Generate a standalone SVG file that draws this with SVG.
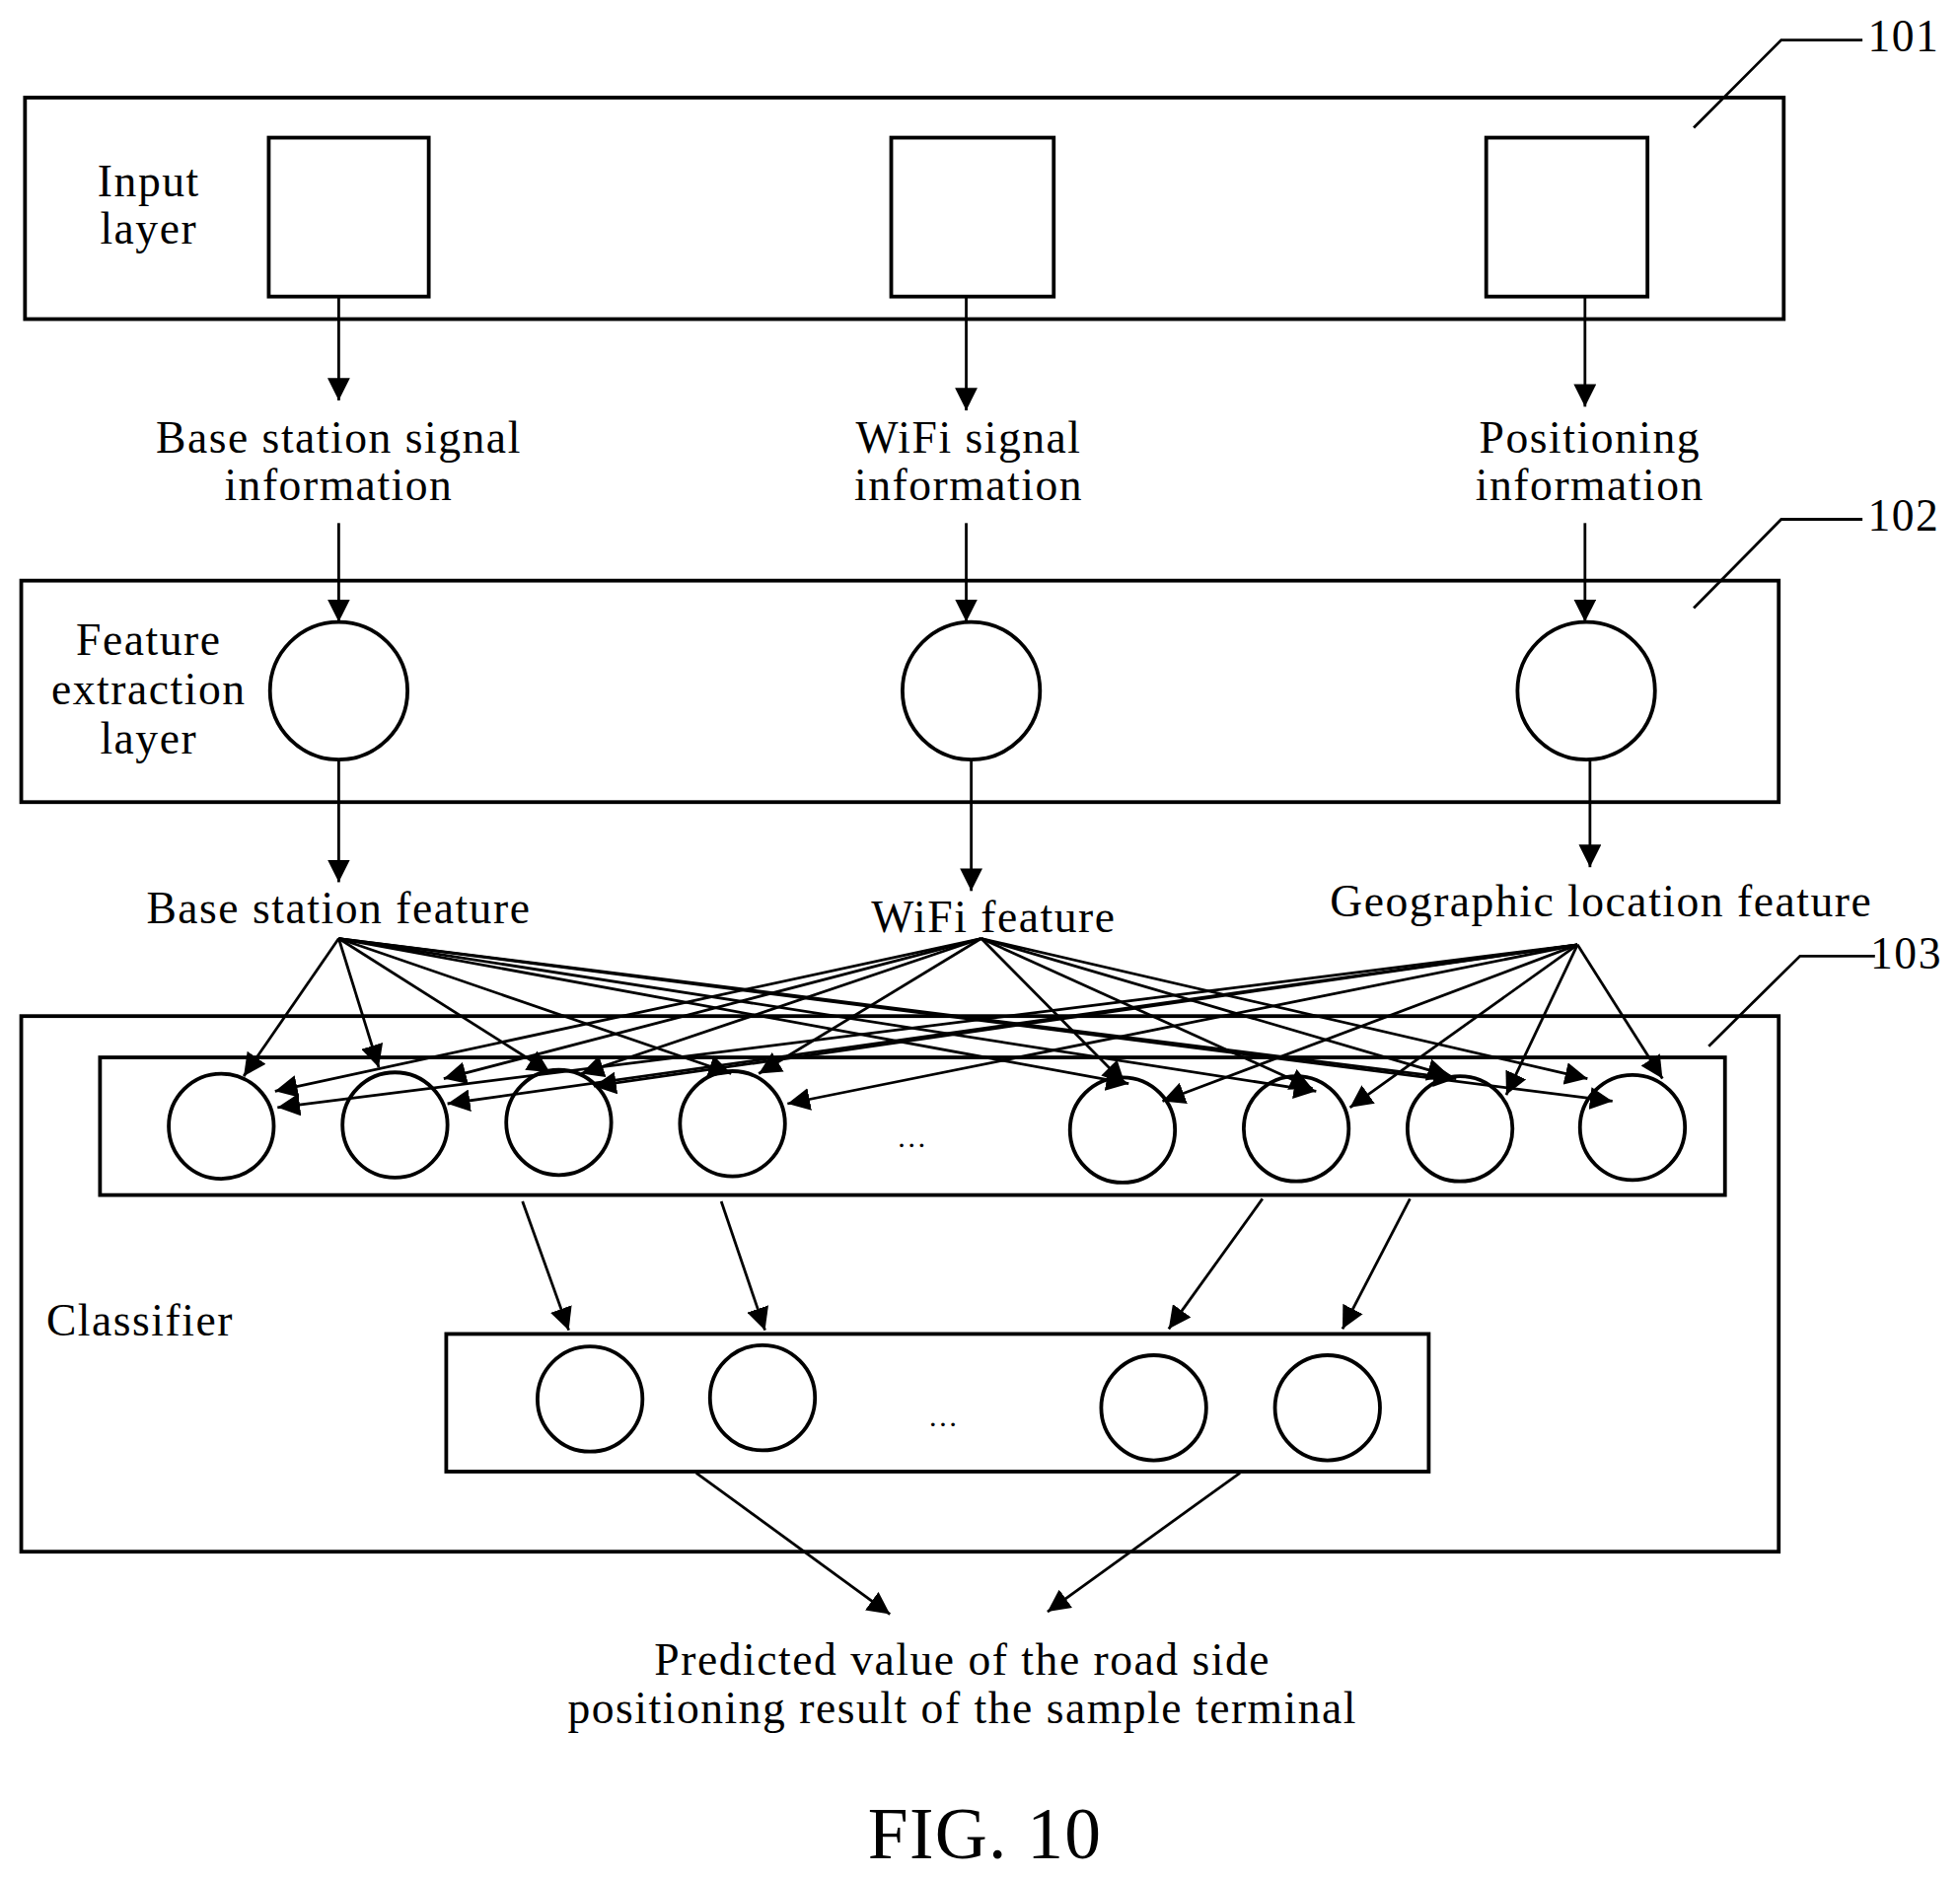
<svg xmlns="http://www.w3.org/2000/svg" width="1987" height="1903" viewBox="0 0 1987 1903">
<style>
.b{fill:none;stroke:#000;stroke-width:3}
.l{fill:none;stroke:#000;stroke-width:2.2}
.a{fill:none;stroke:#000;stroke-width:2.2;marker-end:url(#ah)}
text{font-family:"Liberation Serif",serif;font-size:36px;letter-spacing:1.2px;fill:#000;text-anchor:middle}
</style>
<defs><marker id="ah" viewBox="0 0 10 10" refX="10" refY="5" markerWidth="18" markerHeight="18" markerUnits="userSpaceOnUse" orient="auto"><path d="M0,0 L10,5 L0,10 Z" fill="#000"/></marker></defs>
<rect width="1987" height="1903" fill="#fff"/>
<g transform="scale(1.2672 1.2687)">
<g id="layer101">
<rect class="b" x="20" y="78" width="1407" height="177"/>
<rect class="b" x="215" y="110" width="128" height="127"/>
<rect class="b" x="713" y="110" width="130" height="127"/>
<rect class="b" x="1189" y="110" width="129" height="127"/>
<text x="119" y="157">Input</text><text x="119" y="195">layer</text>
<polyline class="l" points="1355,102 1425,32 1490,32"/><text x="1523" y="41">101</text>
</g>
<g id="labels1">
<text x="271" y="362">Base station signal</text><text x="271" y="400">information</text>
<text x="775" y="362">WiFi signal</text><text x="775" y="400">information</text>
<text x="1272" y="362">Positioning</text><text x="1272" y="400">information</text>
</g>
<g id="layer102">
<rect class="b" x="17" y="464" width="1406" height="177"/>
<circle class="b" cx="271" cy="552" r="55"/>
<circle class="b" cx="777" cy="552" r="55"/>
<circle class="b" cx="1269" cy="552" r="55"/>
<text x="119" y="523">Feature</text><text x="119" y="563">extraction</text><text x="119" y="602">layer</text>
<polyline class="l" points="1355,486 1425,415 1490,415"/><text x="1523" y="424">102</text>
</g>
<g id="features">
<text x="271" y="738">Base station feature</text>
<text x="795" y="745">WiFi feature</text>
<text x="1281" y="732">Geographic location feature</text>
</g>
<g id="layer103">
<rect class="b" x="17" y="812" width="1406" height="428"/>
<polyline class="l" points="1367,836 1440,764 1500,764"/><text x="1525" y="774">103</text>
<text x="37" y="1067" style="text-anchor:start">Classifier</text>
<rect class="b" x="80" y="845" width="1300" height="110"/>
<circle class="b" cx="177" cy="900" r="42"/><circle class="b" cx="316" cy="899" r="42"/>
<circle class="b" cx="447" cy="897" r="42"/><circle class="b" cx="586" cy="898" r="42"/>
<circle class="b" cx="898" cy="903" r="42"/><circle class="b" cx="1037" cy="902" r="42"/>
<circle class="b" cx="1168" cy="902" r="42"/><circle class="b" cx="1306" cy="901" r="42"/>
<text x="730" y="917" style="font-size:24px">…</text>
<rect class="b" x="357" y="1066" width="786" height="110"/>
<circle class="b" cx="472" cy="1118" r="42"/><circle class="b" cx="610" cy="1117" r="42"/>
<circle class="b" cx="923" cy="1125" r="42"/><circle class="b" cx="1062" cy="1125" r="42"/>
<text x="755" y="1140" style="font-size:24px">…</text>
</g>
<g id="output">
<text x="770" y="1338">Predicted value of the road side</text>
<text x="770" y="1377">positioning result of the sample terminal</text>
<text x="788" y="1485" style="font-size:58px;letter-spacing:1px">FIG. 10</text>
</g>
<g id="connectors">
<line class="a" x1="271" y1="237" x2="271" y2="320"/>
<line class="a" x1="773" y1="237" x2="773" y2="328"/>
<line class="a" x1="1268" y1="237" x2="1268" y2="325"/>
<line class="a" x1="271" y1="418" x2="271" y2="497"/>
<line class="a" x1="773" y1="418" x2="773" y2="497"/>
<line class="a" x1="1268" y1="418" x2="1268" y2="497"/>
<line class="a" x1="271" y1="607" x2="271" y2="705"/>
<line class="a" x1="777" y1="607" x2="777" y2="712"/>
<line class="a" x1="1272" y1="607" x2="1272" y2="693"/>
<line class="a" x1="271" y1="750" x2="195" y2="860"/>
<line class="a" x1="271" y1="750" x2="303" y2="853"/>
<line class="a" x1="271" y1="750" x2="440" y2="857"/>
<line class="a" x1="271" y1="750" x2="585" y2="858"/>
<line class="a" x1="271" y1="750" x2="903" y2="866"/>
<line class="a" x1="271" y1="750" x2="1053" y2="872"/>
<line class="a" x1="271" y1="750" x2="1165" y2="862"/>
<line class="a" x1="271" y1="750" x2="1290" y2="880"/>
<line class="a" x1="785" y1="750" x2="220" y2="872"/>
<line class="a" x1="785" y1="750" x2="355" y2="862"/>
<line class="a" x1="785" y1="750" x2="465" y2="858"/>
<line class="a" x1="785" y1="750" x2="607" y2="858"/>
<line class="a" x1="785" y1="750" x2="900" y2="866"/>
<line class="a" x1="785" y1="750" x2="1050" y2="870"/>
<line class="a" x1="785" y1="750" x2="1160" y2="860"/>
<line class="a" x1="785" y1="750" x2="1270" y2="862"/>
<line class="a" x1="1262" y1="755" x2="222" y2="885"/>
<line class="a" x1="1262" y1="755" x2="358" y2="882"/>
<line class="a" x1="1262" y1="755" x2="475" y2="868"/>
<line class="a" x1="1262" y1="755" x2="630" y2="882"/>
<line class="a" x1="1262" y1="755" x2="930" y2="880"/>
<line class="a" x1="1262" y1="755" x2="1080" y2="885"/>
<line class="a" x1="1262" y1="755" x2="1205" y2="875"/>
<line class="a" x1="1262" y1="755" x2="1330" y2="862"/>
<line class="a" x1="418" y1="960" x2="455" y2="1063"/>
<line class="a" x1="577" y1="960" x2="612" y2="1063"/>
<line class="a" x1="1010" y1="958" x2="935" y2="1062"/>
<line class="a" x1="1128" y1="958" x2="1074" y2="1062"/>
<line class="a" x1="557" y1="1177" x2="712" y2="1290"/>
<line class="a" x1="992" y1="1177" x2="838" y2="1288"/>
</g>
</g>
</svg>
